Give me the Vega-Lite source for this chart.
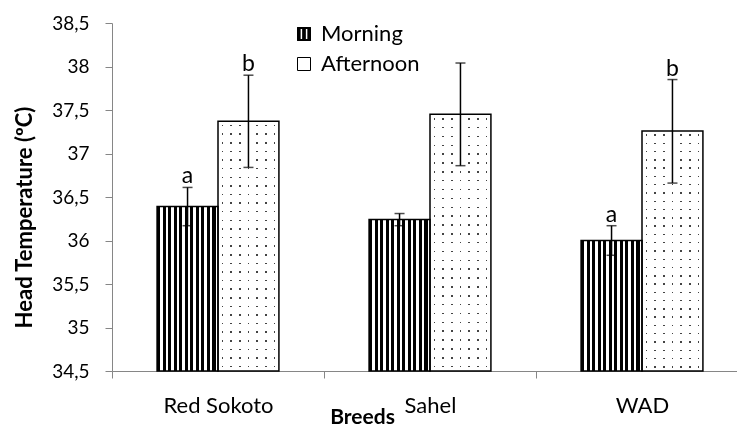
{
  "$schema": "https://vega.github.io/schema/vega-lite/v6.json",
  "width": 636,
  "height": 348,
  "autosize": {"type": "none"},
  "padding": {"left": 112, "top": 23, "right": -11, "bottom": 58},
  "config": {
    "font": "Lato",
    "view": {"stroke": null},
    "locale": {"number": {"decimal": ",", "thousands": ".", "grouping": [3], "currency": ["", ""]}}
  },
  "data": {
    "values": [
      {"breed": "Red Sokoto", "time": "Morning", "mean": 36.39, "low": 36.17, "high": 36.61, "letter": "a"},
      {"breed": "Red Sokoto", "time": "Afternoon", "mean": 37.37, "low": 36.84, "high": 37.9, "letter": "b"},
      {"breed": "Sahel", "time": "Morning", "mean": 36.24, "low": 36.17, "high": 36.31, "letter": ""},
      {"breed": "Sahel", "time": "Afternoon", "mean": 37.45, "low": 36.86, "high": 38.04, "letter": ""},
      {"breed": "WAD", "time": "Morning", "mean": 36.0, "low": 35.83, "high": 36.17, "letter": "a"},
      {"breed": "WAD", "time": "Afternoon", "mean": 37.26, "low": 36.66, "high": 37.85, "letter": "b"}
    ]
  },
  "encoding": {
    "x": {
      "field": "breed", "type": "nominal", "sort": ["Red Sokoto", "Sahel", "WAD"],
      "scale": {"paddingInner": 0, "paddingOuter": 0},
      "axis": {
        "title": "Breeds", "labelAngle": 0, "tickBand": "extent",
        "domainColor": "#868686", "tickColor": "#868686", "tickSize": 7, "domainWidth": 1,
        "labelFontSize": 22, "labelColor": "#000", "labelPadding": 17,
        "titleFontSize": 21, "titleFontWeight": "bold", "titleColor": "#000",
        "titleX": 250, "titleY": 46, "titleBaseline": "middle", "titleAlign": "center"
      }
    },
    "xOffset": {"field": "time", "type": "nominal", "sort": ["Morning", "Afternoon"], "scale": {"paddingInner": 0, "paddingOuter": 0.74}}
  },
  "layer": [
    {
      "mark": {"type": "bar"},
      "encoding": {
        "y": {
          "field": "mean", "type": "quantitative", "title": "Head Temperature (ºC)",
          "scale": {"domain": [34.5, 38.5], "zero": false, "nice": false},
          "axis": {
            "values": [34.5, 35, 35.5, 36, 36.5, 37, 37.5, 38, 38.5], "format": ".1~f", "grid": false,
            "domainColor": "#868686", "tickColor": "#868686", "tickSize": 7,
            "labelFontSize": 19, "labelColor": "#000", "labelPadding": 16,
            "titleFontSize": 22, "titleFontWeight": "bold", "titleColor": "#000",
            "titleAngle": 270, "titleX": -88, "titleY": 194, "titleAlign": "center", "titleBaseline": "middle"
          }
        },
        "y2": {"datum": 34.5},
        "fill": {
          "field": "time", "type": "nominal",
          "scale": {"domain": ["Morning", "Afternoon"], "range": ["#000000", "#ffffff"]},
          "legend": {
            "orient": "none", "legendX": 181, "legendY": 0, "title": null, "direction": "vertical",
            "symbolType": "square", "symbolSize": 169, "symbolStrokeColor": "#000", "symbolStrokeWidth": 1,
            "labelFontSize": 22, "labelColor": "#000", "rowPadding": 8, "labelOffset": 6,
            "encode": {"symbols": {"update": {"shape": {"signal": "datum.value === 'Morning' ? 'M-1,-1H1V-0.85H-1Z M-1,0.85H1V1H-1Z M-1,-1H-0.6V1H-1Z M-0.2,-1H0.2V1H-0.2Z M0.6,-1H1V1H0.6Z' : 'square'"}}}}
          }
        }
      }
    },
    {
      "transform": [{"filter": "datum.time === 'Morning'"}],
      "mark": {
        "type": "bar",
        "fill": {
          "gradient": "linear", "x1": 0, "y1": 0, "x2": 1, "y2": 0,
          "stops": [
            {"offset": 0, "color": "#000"}, {"offset": 0.05, "color": "#000"}, {"offset": 0.05, "color": "#fff"}, {"offset": 0.0909, "color": "#fff"},
            {"offset": 0.0909, "color": "#000"}, {"offset": 0.1409, "color": "#000"}, {"offset": 0.1409, "color": "#fff"}, {"offset": 0.1818, "color": "#fff"},
            {"offset": 0.1818, "color": "#000"}, {"offset": 0.2318, "color": "#000"}, {"offset": 0.2318, "color": "#fff"}, {"offset": 0.2727, "color": "#fff"},
            {"offset": 0.2727, "color": "#000"}, {"offset": 0.3227, "color": "#000"}, {"offset": 0.3227, "color": "#fff"}, {"offset": 0.3636, "color": "#fff"},
            {"offset": 0.3636, "color": "#000"}, {"offset": 0.4136, "color": "#000"}, {"offset": 0.4136, "color": "#fff"}, {"offset": 0.4545, "color": "#fff"},
            {"offset": 0.4545, "color": "#000"}, {"offset": 0.5045, "color": "#000"}, {"offset": 0.5045, "color": "#fff"}, {"offset": 0.5455, "color": "#fff"},
            {"offset": 0.5455, "color": "#000"}, {"offset": 0.5955, "color": "#000"}, {"offset": 0.5955, "color": "#fff"}, {"offset": 0.6364, "color": "#fff"},
            {"offset": 0.6364, "color": "#000"}, {"offset": 0.6864, "color": "#000"}, {"offset": 0.6864, "color": "#fff"}, {"offset": 0.7273, "color": "#fff"},
            {"offset": 0.7273, "color": "#000"}, {"offset": 0.7773, "color": "#000"}, {"offset": 0.7773, "color": "#fff"}, {"offset": 0.8182, "color": "#fff"},
            {"offset": 0.8182, "color": "#000"}, {"offset": 0.8682, "color": "#000"}, {"offset": 0.8682, "color": "#fff"}, {"offset": 0.9091, "color": "#fff"},
            {"offset": 0.9091, "color": "#000"}, {"offset": 0.9591, "color": "#000"}, {"offset": 0.9591, "color": "#fff"}, {"offset": 1, "color": "#fff"}
          ]
        }
      },
      "encoding": {
        "y": {"field": "mean", "type": "quantitative", "title": "Head Temperature (ºC)"},
        "y2": {"datum": 34.5}
      }
    },
    {
      "transform": [{"filter": "datum.time === 'Afternoon'"}],
      "mark": {
        "type": "bar",
        "fill": {
          "gradient": "linear", "x1": 0, "y1": 0, "x2": 1, "y2": 0,
          "stops": [
            {"offset": 0, "color": "#fff"},
            {"offset": 0.0579, "color": "#fff"}, {"offset": 0.0579, "color": "#444"}, {"offset": 0.0849, "color": "#444"}, {"offset": 0.0849, "color": "#fff"},
            {"offset": 0.2008, "color": "#fff"}, {"offset": 0.2008, "color": "#444"}, {"offset": 0.2278, "color": "#444"}, {"offset": 0.2278, "color": "#fff"},
            {"offset": 0.3436, "color": "#fff"}, {"offset": 0.3436, "color": "#444"}, {"offset": 0.3706, "color": "#444"}, {"offset": 0.3706, "color": "#fff"},
            {"offset": 0.4865, "color": "#fff"}, {"offset": 0.4865, "color": "#444"}, {"offset": 0.5135, "color": "#444"}, {"offset": 0.5135, "color": "#fff"},
            {"offset": 0.6294, "color": "#fff"}, {"offset": 0.6294, "color": "#444"}, {"offset": 0.6564, "color": "#444"}, {"offset": 0.6564, "color": "#fff"},
            {"offset": 0.7722, "color": "#fff"}, {"offset": 0.7722, "color": "#444"}, {"offset": 0.7992, "color": "#444"}, {"offset": 0.7992, "color": "#fff"},
            {"offset": 0.9151, "color": "#fff"}, {"offset": 0.9151, "color": "#444"}, {"offset": 0.9421, "color": "#444"}, {"offset": 0.9421, "color": "#fff"},
            {"offset": 1, "color": "#fff"}
          ]
        }
      },
      "encoding": {
        "y": {"field": "mean", "type": "quantitative", "title": "Head Temperature (ºC)"},
        "y2": {"datum": 34.5}
      }
    },
    {
      "transform": [{"filter": "datum.time === 'Afternoon'"}],
      "mark": {
        "type": "bar",
        "blend": "lighten",
        "fill": {
          "gradient": "linear", "x1": 0, "y1": 0, "x2": 0, "y2": 1,
          "stops": [
            {"offset": 0, "color": "#fff"},
            {"offset": 0.0142, "color": "#fff"}, {"offset": 0.0142, "color": "#444"}, {"offset": 0.0202, "color": "#444"}, {"offset": 0.0202, "color": "#fff"},
            {"offset": 0.0487, "color": "#fff"}, {"offset": 0.0487, "color": "#444"}, {"offset": 0.0547, "color": "#444"}, {"offset": 0.0547, "color": "#fff"},
            {"offset": 0.0832, "color": "#fff"}, {"offset": 0.0832, "color": "#444"}, {"offset": 0.0892, "color": "#444"}, {"offset": 0.0892, "color": "#fff"},
            {"offset": 0.1177, "color": "#fff"}, {"offset": 0.1177, "color": "#444"}, {"offset": 0.1237, "color": "#444"}, {"offset": 0.1237, "color": "#fff"},
            {"offset": 0.1522, "color": "#fff"}, {"offset": 0.1522, "color": "#444"}, {"offset": 0.1582, "color": "#444"}, {"offset": 0.1582, "color": "#fff"},
            {"offset": 0.1867, "color": "#fff"}, {"offset": 0.1867, "color": "#444"}, {"offset": 0.1927, "color": "#444"}, {"offset": 0.1927, "color": "#fff"},
            {"offset": 0.2211, "color": "#fff"}, {"offset": 0.2211, "color": "#444"}, {"offset": 0.2271, "color": "#444"}, {"offset": 0.2271, "color": "#fff"},
            {"offset": 0.2556, "color": "#fff"}, {"offset": 0.2556, "color": "#444"}, {"offset": 0.2616, "color": "#444"}, {"offset": 0.2616, "color": "#fff"},
            {"offset": 0.2901, "color": "#fff"}, {"offset": 0.2901, "color": "#444"}, {"offset": 0.2961, "color": "#444"}, {"offset": 0.2961, "color": "#fff"},
            {"offset": 0.3246, "color": "#fff"}, {"offset": 0.3246, "color": "#444"}, {"offset": 0.3306, "color": "#444"}, {"offset": 0.3306, "color": "#fff"},
            {"offset": 0.3591, "color": "#fff"}, {"offset": 0.3591, "color": "#444"}, {"offset": 0.3651, "color": "#444"}, {"offset": 0.3651, "color": "#fff"},
            {"offset": 0.3936, "color": "#fff"}, {"offset": 0.3936, "color": "#444"}, {"offset": 0.3996, "color": "#444"}, {"offset": 0.3996, "color": "#fff"},
            {"offset": 0.428, "color": "#fff"}, {"offset": 0.428, "color": "#444"}, {"offset": 0.434, "color": "#444"}, {"offset": 0.434, "color": "#fff"},
            {"offset": 0.4625, "color": "#fff"}, {"offset": 0.4625, "color": "#444"}, {"offset": 0.4685, "color": "#444"}, {"offset": 0.4685, "color": "#fff"},
            {"offset": 0.497, "color": "#fff"}, {"offset": 0.497, "color": "#444"}, {"offset": 0.503, "color": "#444"}, {"offset": 0.503, "color": "#fff"},
            {"offset": 0.5315, "color": "#fff"}, {"offset": 0.5315, "color": "#444"}, {"offset": 0.5375, "color": "#444"}, {"offset": 0.5375, "color": "#fff"},
            {"offset": 0.566, "color": "#fff"}, {"offset": 0.566, "color": "#444"}, {"offset": 0.572, "color": "#444"}, {"offset": 0.572, "color": "#fff"},
            {"offset": 0.6005, "color": "#fff"}, {"offset": 0.6005, "color": "#444"}, {"offset": 0.6065, "color": "#444"}, {"offset": 0.6065, "color": "#fff"},
            {"offset": 0.6349, "color": "#fff"}, {"offset": 0.6349, "color": "#444"}, {"offset": 0.6409, "color": "#444"}, {"offset": 0.6409, "color": "#fff"},
            {"offset": 0.6694, "color": "#fff"}, {"offset": 0.6694, "color": "#444"}, {"offset": 0.6754, "color": "#444"}, {"offset": 0.6754, "color": "#fff"},
            {"offset": 0.7039, "color": "#fff"}, {"offset": 0.7039, "color": "#444"}, {"offset": 0.7099, "color": "#444"}, {"offset": 0.7099, "color": "#fff"},
            {"offset": 0.7384, "color": "#fff"}, {"offset": 0.7384, "color": "#444"}, {"offset": 0.7444, "color": "#444"}, {"offset": 0.7444, "color": "#fff"},
            {"offset": 0.7729, "color": "#fff"}, {"offset": 0.7729, "color": "#444"}, {"offset": 0.7789, "color": "#444"}, {"offset": 0.7789, "color": "#fff"},
            {"offset": 0.8073, "color": "#fff"}, {"offset": 0.8073, "color": "#444"}, {"offset": 0.8133, "color": "#444"}, {"offset": 0.8133, "color": "#fff"},
            {"offset": 0.8418, "color": "#fff"}, {"offset": 0.8418, "color": "#444"}, {"offset": 0.8478, "color": "#444"}, {"offset": 0.8478, "color": "#fff"},
            {"offset": 0.8763, "color": "#fff"}, {"offset": 0.8763, "color": "#444"}, {"offset": 0.8823, "color": "#444"}, {"offset": 0.8823, "color": "#fff"},
            {"offset": 0.9108, "color": "#fff"}, {"offset": 0.9108, "color": "#444"}, {"offset": 0.9168, "color": "#444"}, {"offset": 0.9168, "color": "#fff"},
            {"offset": 0.9453, "color": "#fff"}, {"offset": 0.9453, "color": "#444"}, {"offset": 0.9513, "color": "#444"}, {"offset": 0.9513, "color": "#fff"},
            {"offset": 0.9798, "color": "#fff"}, {"offset": 0.9798, "color": "#444"}, {"offset": 0.9858, "color": "#444"}, {"offset": 0.9858, "color": "#fff"},
            {"offset": 1, "color": "#fff"}
          ]
        }
      },
      "encoding": {
        "y": {"field": "mean", "type": "quantitative", "title": "Head Temperature (ºC)"},
        "y2": {"datum": 34.5}
      }
    },
    {
      "mark": {"type": "bar", "fillOpacity": 0, "stroke": "#000", "strokeWidth": 1.5},
      "encoding": {
        "y": {"field": "mean", "type": "quantitative", "title": "Head Temperature (ºC)"},
        "y2": {"datum": 34.5}
      }
    },
    {
      "mark": {"type": "rule", "color": "#000", "strokeWidth": 1.5},
      "encoding": {
        "y": {"field": "low", "type": "quantitative", "title": "Head Temperature (ºC)"},
        "y2": {"field": "high"}
      }
    },
    {
      "mark": {"type": "tick", "color": "#000", "thickness": 1.5, "size": 10},
      "encoding": {
        "y": {"field": "high", "type": "quantitative", "title": "Head Temperature (ºC)"}
      }
    },
    {
      "mark": {"type": "tick", "color": "#000", "thickness": 1.5, "size": 10},
      "encoding": {
        "y": {"field": "low", "type": "quantitative", "title": "Head Temperature (ºC)"}
      }
    },
    {
      "transform": [{"filter": "datum.letter !== ''"}],
      "mark": {"type": "text", "fontSize": 23, "color": "#000", "baseline": "alphabetic", "dy": -4},
      "encoding": {
        "y": {"field": "high", "type": "quantitative", "title": "Head Temperature (ºC)"},
        "text": {"field": "letter"}
      }
    }
  ]
}
